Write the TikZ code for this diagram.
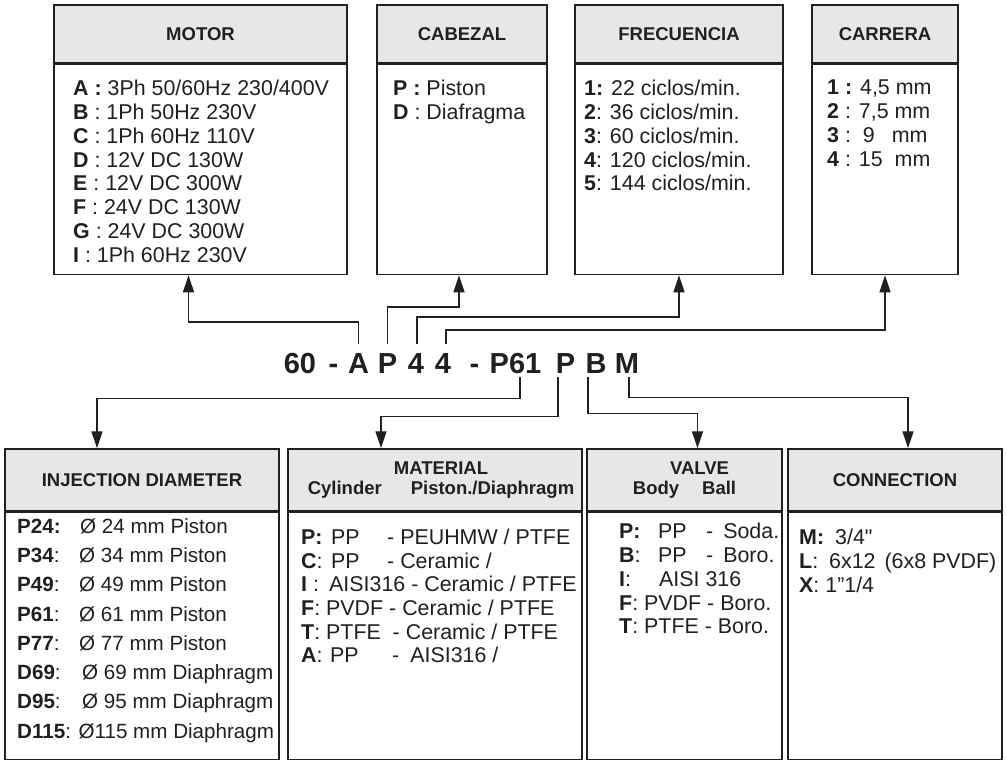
\documentclass[tikz,border=0pt]{standalone}
\usepackage{fontspec}
\setmainfont{Liberation Sans}
\usetikzlibrary{positioning,arrows.meta}
\definecolor{ink}{HTML}{231F20}
\definecolor{headgray}{HTML}{E6E7E8}

\tikzset{
  head/.style={draw=ink, fill=headgray, line width=1.5pt, minimum height=58pt, inner sep=0pt,
    align=center, text=ink, font=\fontsize{18.5}{20}\selectfont\bfseries},
  bodybox/.style={draw=ink, fill=white, line width=1.5pt},
  list/.style={anchor=north west, inner sep=0pt, align=left, text=ink,
    font=\fontsize{21.4}{23.8}\selectfont},
  code/.style={anchor=base, inner sep=0pt, text=ink, font=\fontsize{29}{30}\selectfont\bfseries},
  arr/.style={draw=ink, line width=1.3pt, -{Triangle[length=17pt,width=11pt]}},
}

\begin{document}
\begin{tikzpicture}[x=1pt,y=-1pt]
\useasboundingbox (0,0) rectangle (1007,760);

% top boxes
\node[head, minimum width=293pt] (motor) at (200.5,34) {MOTOR};
\node[bodybox, minimum width=293pt, minimum height=210pt, below=0pt of motor] (motorB) {};
\node[head, minimum width=170pt] (cab) at (462,34) {CABEZAL};
\node[bodybox, minimum width=170pt, minimum height=210pt, below=0pt of cab] (cabB) {};
\node[head, minimum width=208pt] (frec) at (679,34) {FRECUENCIA};
\node[bodybox, minimum width=208pt, minimum height=210pt, below=0pt of frec] (frecB) {};
\node[head, minimum width=146pt] (car) at (885,34) {CARRERA};
\node[bodybox, minimum width=146pt, minimum height=210pt, below=0pt of car] (carB) {};

\node[list] (motorL) at (73,80) {\textbf{A :} 3Ph 50/60Hz 230/400V\\
  \textbf{B} : 1Ph 50Hz 230V\\
  \textbf{C} : 1Ph 60Hz 110V\\
  \textbf{D} : 12V DC 130W\\
  \textbf{E} : 12V DC 300W\\
  \textbf{F} : 24V DC 130W\\
  \textbf{G} : 24V DC 300W\\
  \textbf{I} : 1Ph 60Hz 230V};
\node[list] (cabL) at (393,80) {\textbf{P :} Piston\\ \textbf{D} : Diafragma};
\node[list] (frecL) at (584,80) {\textbf{1:} 22 ciclos/min.\\
  \textbf{2}: 36 ciclos/min.\\
  \textbf{3}: 60 ciclos/min.\\
  \textbf{4}: 120 ciclos/min.\\
  \textbf{5}: 144 ciclos/min.};
\node[list] (carL) at (827,80) {\textbf{1 :} 4,5 mm\\
  \textbf{2} : 7,5 mm\\
  \textbf{3} :\hspace{12pt}9\hspace{17pt}mm\\
  \textbf{4} : 15\hspace{12pt}mm};

% code
\node[code] (c60) at (300,373) {60};
\node[code] (cd1) at (333.5,373) {-};
\node[code] (cA) at (358.5,373) {A};
\node[code] (cP) at (387.5,373) {P};
\node[code] (cF) at (416,373) {4};
\node[code] (cC) at (443,373) {4};
\node[code] (cd2) at (474.5,373) {-};
\node[code] (cD) at (515.5,373) {P61};
\node[code] (cM) at (565.5,373) {P};
\node[code] (cV) at (596,373) {B};
\node[code] (cN) at (627,373) {M};

% bottom boxes
\node[head, minimum width=274pt, minimum height=62pt] (inj) at (142,480) {INJECTION DIAMETER};
\node[bodybox, minimum width=274pt, minimum height=247pt, below=0pt of inj] (injB) {};
\node[head, minimum width=294pt, minimum height=62pt] (mat) at (435,480)
  {\hspace*{12pt}MATERIAL\\ \hspace*{12pt}Cylinder\hspace{29pt}Piston./Diaphragm};
\node[bodybox, minimum width=294pt, minimum height=247pt, below=0pt of mat] (matB) {};
\node[head, minimum width=195pt, minimum height=62pt] (valve) at (684.5,480)
  {\hspace*{30pt}VALVE\\ Body\hspace{23pt}Ball};
\node[bodybox, minimum width=195pt, minimum height=247pt, below=0pt of valve] (valveB) {};
\node[head, minimum width=214pt, minimum height=62pt] (conn) at (895,480) {CONNECTION};
\node[bodybox, minimum width=214pt, minimum height=247pt, below=0pt of conn] (connB) {};

\node[list, font=\fontsize{20.6}{29.3}\selectfont] (injL) at (17,518)
  {\makebox[63pt][l]{\textbf{P24:}}Ø 24 mm Piston\\
  \makebox[62pt][l]{\textbf{P34}:}Ø 34 mm Piston\\
  \makebox[62pt][l]{\textbf{P49}:}Ø 49 mm Piston\\
  \makebox[62pt][l]{\textbf{P61}:}Ø 61 mm Piston\\
  \makebox[62pt][l]{\textbf{P77}:}Ø 77 mm Piston\\
  \makebox[65pt][l]{\textbf{D69}:}Ø 69 mm Diaphragm\\
  \makebox[65pt][l]{\textbf{D95}:}Ø 95 mm Diaphragm\\
  \textbf{D115}: Ø115 mm Diaphragm};
\node[list, font=\fontsize{21.4}{23.6}\selectfont] (matL) at (301,529)
  {\makebox[30pt][l]{\textbf{P:}}\makebox[56pt][l]{PP}- PEUHMW / PTFE\\
  \makebox[30pt][l]{\textbf{C}:}\makebox[56pt][l]{PP}- Ceramic /\\
  \makebox[28pt][l]{\textbf{I} :}AISI316 - Ceramic / PTFE\\
  \textbf{F}: PVDF - Ceramic / PTFE\\
  \textbf{T}: PTFE\ \ - Ceramic / PTFE\\
  \makebox[29pt][l]{\textbf{A}:}\makebox[62pt][l]{PP}-\hspace{11pt}AISI316 /};
\node[list] (valveL) at (619,523)
  {\makebox[39pt][l]{\textbf{P:}}\makebox[48pt][l]{PP}-\hspace{10pt}Soda.\\
  \makebox[39pt][l]{\textbf{B}:}\makebox[48pt][l]{PP}-\hspace{10pt}Boro.\\
  \makebox[40pt][l]{\textbf{I}:}AISI 316\\
  \textbf{F}: PVDF - Boro.\\
  \textbf{T}: PTFE - Boro.};
\node[list] (connL) at (799,529)
  {\makebox[36pt][l]{\textbf{M:}}3/4\textquotedbl\\
  \makebox[30pt][l]{\textbf{L}:}6x12\hspace{9pt}(6x8 PVDF)\\
  \textbf{X}: 1”1/4};

% connectors up
\draw[arr] ([yshift=9pt]cA.north) -- ++(0,-22) -| ([xshift=-12pt]motorB.south);
\draw[arr] ([yshift=9pt]cP.north) -- ++(0,-37) -| ([xshift=-3pt]cabB.south);
\draw[arr] ([xshift=1pt,yshift=9pt]cF.north) -- ++(0,-27) -| (frecB.south);
\draw[arr] ([xshift=3pt,yshift=9pt]cC.north) -- ++(0,-14) -| (carB.south);

% connectors down
\draw[arr] ([xshift=4.5pt,yshift=-4pt]cD.south) -- ++(0,21) -| ([xshift=-45pt]inj.north);
\draw[arr] ([xshift=-7.5pt,yshift=-4pt]cM.south) -- ++(0,39) -| ([xshift=-54pt]mat.north);
\draw[arr] ([xshift=-8pt,yshift=-4pt]cV.south) -- ++(0,36) -| ([xshift=13pt]valve.north);
\draw[arr] ([xshift=2pt,yshift=-4pt]cN.south) -- ++(0,20) -| ([xshift=13pt]conn.north);
\end{tikzpicture}
\end{document}
